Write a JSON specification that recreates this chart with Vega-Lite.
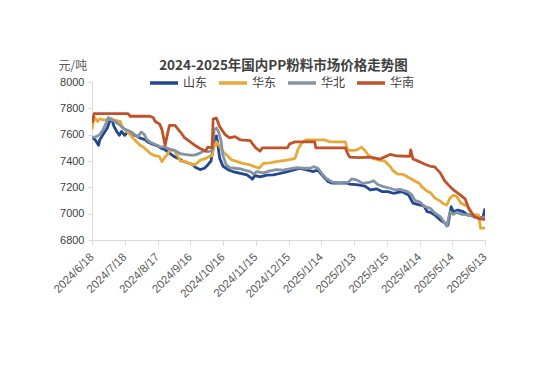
{
  "$schema": "https://vega.github.io/schema/vega-lite/v6.json",
  "width": 393,
  "height": 158,
  "autosize": "none",
  "padding": {"left": 92, "top": 82, "right": 48, "bottom": 127},
  "background": "white",
  "title": {"text": "2024-2025年国内PP粉料市场价格走势图", "font": "Noto Sans CJK SC", "fontSize": 13.5, "fontWeight": "bold", "color": "#404040", "anchor": "middle", "offset": 10, "dx": -5, "dy": 23},
  "config": {"view": {"stroke": null}},
  "datasets": {
    "prices": [
      {"date":"2024-06-18","region":"山东","price":7580},{"date":"2024-06-21","region":"山东","price":7560},{"date":"2024-06-24","region":"山东","price":7520},{"date":"2024-06-25","region":"山东","price":7560},{"date":"2024-06-28","region":"山东","price":7600},{"date":"2024-07-02","region":"山东","price":7650},{"date":"2024-07-04","region":"山东","price":7700},{"date":"2024-07-06","region":"山东","price":7720},{"date":"2024-07-08","region":"山东","price":7665},{"date":"2024-07-11","region":"山东","price":7620},{"date":"2024-07-13","region":"山东","price":7595},{"date":"2024-07-15","region":"山东","price":7625},{"date":"2024-07-18","region":"山东","price":7595},{"date":"2024-07-21","region":"山东","price":7625},{"date":"2024-07-24","region":"山东","price":7615},{"date":"2024-07-27","region":"山东","price":7595},{"date":"2024-07-29","region":"山东","price":7590},{"date":"2024-08-01","region":"山东","price":7575},{"date":"2024-08-06","region":"山东","price":7560},{"date":"2024-08-08","region":"山东","price":7545},{"date":"2024-08-12","region":"山东","price":7530},{"date":"2024-08-17","region":"山东","price":7515},{"date":"2024-08-21","region":"山东","price":7495},{"date":"2024-08-24","region":"山东","price":7485},{"date":"2024-08-28","region":"山东","price":7460},{"date":"2024-09-01","region":"山东","price":7435},{"date":"2024-09-05","region":"山东","price":7420},{"date":"2024-09-09","region":"山东","price":7400},{"date":"2024-09-14","region":"山东","price":7385},{"date":"2024-09-18","region":"山东","price":7375},{"date":"2024-09-21","region":"山东","price":7350},{"date":"2024-09-25","region":"山东","price":7335},{"date":"2024-09-29","region":"山东","price":7345},{"date":"2024-10-02","region":"山东","price":7370},{"date":"2024-10-05","region":"山东","price":7400},{"date":"2024-10-08","region":"山东","price":7560},{"date":"2024-10-10","region":"山东","price":7590},{"date":"2024-10-11","region":"山东","price":7540},{"date":"2024-10-13","region":"山东","price":7420},{"date":"2024-10-16","region":"山东","price":7360},{"date":"2024-10-21","region":"山东","price":7332},{"date":"2024-10-25","region":"山东","price":7320},{"date":"2024-11-01","region":"山东","price":7306},{"date":"2024-11-07","region":"山东","price":7294},{"date":"2024-11-12","region":"山东","price":7262},{"date":"2024-11-14","region":"山东","price":7290},{"date":"2024-11-19","region":"山东","price":7280},{"date":"2024-11-25","region":"山东","price":7292},{"date":"2024-12-01","region":"山东","price":7294},{"date":"2024-12-07","region":"山东","price":7305},{"date":"2024-12-14","region":"山东","price":7319},{"date":"2024-12-19","region":"山东","price":7330},{"date":"2024-12-25","region":"山东","price":7344},{"date":"2024-12-31","region":"山东","price":7335},{"date":"2025-01-06","region":"山东","price":7320},{"date":"2025-01-11","region":"山东","price":7330},{"date":"2025-01-16","region":"山东","price":7282},{"date":"2025-01-20","region":"山东","price":7245},{"date":"2025-01-24","region":"山东","price":7232},{"date":"2025-01-31","region":"山东","price":7232},{"date":"2025-02-07","region":"山东","price":7232},{"date":"2025-02-09","region":"山东","price":7225},{"date":"2025-02-17","region":"山东","price":7218},{"date":"2025-02-23","region":"山东","price":7210},{"date":"2025-02-28","region":"山东","price":7180},{"date":"2025-03-06","region":"山东","price":7188},{"date":"2025-03-11","region":"山东","price":7167},{"date":"2025-03-16","region":"山东","price":7167},{"date":"2025-03-21","region":"山东","price":7155},{"date":"2025-03-29","region":"山东","price":7167},{"date":"2025-04-04","region":"山东","price":7142},{"date":"2025-04-08","region":"山东","price":7080},{"date":"2025-04-14","region":"山东","price":7066},{"date":"2025-04-18","region":"山东","price":7060},{"date":"2025-04-21","region":"山东","price":7015},{"date":"2025-04-24","region":"山东","price":7010},{"date":"2025-04-28","region":"山东","price":6990},{"date":"2025-05-03","region":"山东","price":6952},{"date":"2025-05-07","region":"山东","price":6930},{"date":"2025-05-10","region":"山东","price":6912},{"date":"2025-05-13","region":"山东","price":7053},{"date":"2025-05-15","region":"山东","price":7015},{"date":"2025-05-19","region":"山东","price":7028},{"date":"2025-05-24","region":"山东","price":7015},{"date":"2025-05-28","region":"山东","price":6990},{"date":"2025-05-31","region":"山东","price":6990},{"date":"2025-06-05","region":"山东","price":6977},{"date":"2025-06-11","region":"山东","price":6965},{"date":"2025-06-13","region":"山东","price":7040},

      {"date":"2024-06-18","region":"华东","price":7640},{"date":"2024-06-20","region":"华东","price":7735},{"date":"2024-06-23","region":"华东","price":7700},{"date":"2024-06-25","region":"华东","price":7720},{"date":"2024-06-30","region":"华东","price":7710},{"date":"2024-07-04","region":"华东","price":7720},{"date":"2024-07-09","region":"华东","price":7710},{"date":"2024-07-14","region":"华东","price":7700},{"date":"2024-07-15","region":"华东","price":7670},{"date":"2024-07-18","region":"华东","price":7640},{"date":"2024-07-23","region":"华东","price":7600},{"date":"2024-07-26","region":"华东","price":7570},{"date":"2024-07-29","region":"华东","price":7545},{"date":"2024-08-01","region":"华东","price":7520},{"date":"2024-08-04","region":"华东","price":7505},{"date":"2024-08-07","region":"华东","price":7485},{"date":"2024-08-10","region":"华东","price":7460},{"date":"2024-08-13","region":"华东","price":7445},{"date":"2024-08-18","region":"华东","price":7435},{"date":"2024-08-19","region":"华东","price":7430},{"date":"2024-08-21","region":"华东","price":7395},{"date":"2024-08-23","region":"华东","price":7420},{"date":"2024-08-26","region":"华东","price":7450},{"date":"2024-08-28","region":"华东","price":7480},{"date":"2024-09-01","region":"华东","price":7480},{"date":"2024-09-04","region":"华东","price":7446},{"date":"2024-09-07","region":"华东","price":7400},{"date":"2024-09-11","region":"华东","price":7395},{"date":"2024-09-16","region":"华东","price":7380},{"date":"2024-09-20","region":"华东","price":7370},{"date":"2024-09-25","region":"华东","price":7405},{"date":"2024-09-30","region":"华东","price":7420},{"date":"2024-10-04","region":"华东","price":7435},{"date":"2024-10-06","region":"华东","price":7440},{"date":"2024-10-08","region":"华东","price":7510},{"date":"2024-10-10","region":"华东","price":7545},{"date":"2024-10-13","region":"华东","price":7510},{"date":"2024-10-16","region":"华东","price":7470},{"date":"2024-10-21","region":"华东","price":7433},{"date":"2024-10-24","region":"华东","price":7408},{"date":"2024-10-29","region":"华东","price":7395},{"date":"2024-11-03","region":"华东","price":7382},{"date":"2024-11-10","region":"华东","price":7370},{"date":"2024-11-14","region":"华东","price":7357},{"date":"2024-11-18","region":"华东","price":7345},{"date":"2024-11-22","region":"华东","price":7382},{"date":"2024-11-28","region":"华东","price":7385},{"date":"2024-12-04","region":"华东","price":7395},{"date":"2024-12-12","region":"华东","price":7405},{"date":"2024-12-16","region":"华东","price":7410},{"date":"2024-12-21","region":"华东","price":7420},{"date":"2024-12-24","region":"华东","price":7495},{"date":"2024-12-27","region":"华东","price":7535},{"date":"2024-12-31","region":"华东","price":7560},{"date":"2025-01-17","region":"华东","price":7560},{"date":"2025-01-22","region":"华东","price":7545},{"date":"2025-02-05","region":"华东","price":7545},{"date":"2025-02-07","region":"华东","price":7490},{"date":"2025-02-09","region":"华东","price":7480},{"date":"2025-02-14","region":"华东","price":7480},{"date":"2025-02-17","region":"华东","price":7490},{"date":"2025-02-20","region":"华东","price":7505},{"date":"2025-02-23","region":"华东","price":7480},{"date":"2025-02-26","region":"华东","price":7446},{"date":"2025-03-02","region":"华东","price":7420},{"date":"2025-03-09","region":"华东","price":7405},{"date":"2025-03-13","region":"华东","price":7400},{"date":"2025-03-18","region":"华东","price":7360},{"date":"2025-03-21","region":"华东","price":7325},{"date":"2025-03-25","region":"华东","price":7300},{"date":"2025-03-29","region":"华东","price":7300},{"date":"2025-04-01","region":"华东","price":7290},{"date":"2025-04-04","region":"华东","price":7275},{"date":"2025-04-07","region":"华东","price":7262},{"date":"2025-04-11","region":"华东","price":7243},{"date":"2025-04-14","region":"华东","price":7230},{"date":"2025-04-16","region":"华东","price":7205},{"date":"2025-04-21","region":"华东","price":7170},{"date":"2025-04-24","region":"华东","price":7160},{"date":"2025-04-28","region":"华东","price":7120},{"date":"2025-05-03","region":"华东","price":7095},{"date":"2025-05-06","region":"华东","price":7075},{"date":"2025-05-09","region":"华东","price":7066},{"date":"2025-05-12","region":"华东","price":7120},{"date":"2025-05-15","region":"华东","price":7140},{"date":"2025-05-18","region":"华东","price":7130},{"date":"2025-05-22","region":"华东","price":7080},{"date":"2025-05-27","region":"华东","price":7060},{"date":"2025-05-29","region":"华东","price":7050},{"date":"2025-06-01","region":"华东","price":6995},{"date":"2025-06-07","region":"华东","price":6990},{"date":"2025-06-09","region":"华东","price":6890},{"date":"2025-06-13","region":"华东","price":6890},

      {"date":"2024-06-18","region":"华北","price":7580},{"date":"2024-06-22","region":"华北","price":7585},{"date":"2024-06-25","region":"华北","price":7600},{"date":"2024-06-28","region":"华北","price":7635},{"date":"2024-07-01","region":"华北","price":7690},{"date":"2024-07-03","region":"华北","price":7730},{"date":"2024-07-05","region":"华北","price":7715},{"date":"2024-07-09","region":"华北","price":7700},{"date":"2024-07-14","region":"华北","price":7670},{"date":"2024-07-17","region":"华北","price":7645},{"date":"2024-07-20","region":"华北","price":7635},{"date":"2024-07-24","region":"华北","price":7620},{"date":"2024-07-27","region":"华北","price":7600},{"date":"2024-07-30","region":"华北","price":7585},{"date":"2024-08-02","region":"华北","price":7620},{"date":"2024-08-05","region":"华北","price":7600},{"date":"2024-08-07","region":"华北","price":7565},{"date":"2024-08-10","region":"华北","price":7545},{"date":"2024-08-15","region":"华北","price":7525},{"date":"2024-08-19","region":"华北","price":7510},{"date":"2024-08-24","region":"华北","price":7505},{"date":"2024-08-28","region":"华北","price":7490},{"date":"2024-09-02","region":"华北","price":7480},{"date":"2024-09-07","region":"华北","price":7455},{"date":"2024-09-11","region":"华北","price":7450},{"date":"2024-09-16","region":"华北","price":7445},{"date":"2024-09-20","region":"华北","price":7445},{"date":"2024-09-25","region":"华北","price":7460},{"date":"2024-09-29","region":"华北","price":7480},{"date":"2024-10-02","region":"华北","price":7470},{"date":"2024-10-06","region":"华北","price":7480},{"date":"2024-10-08","region":"华北","price":7640},{"date":"2024-10-10","region":"华北","price":7650},{"date":"2024-10-12","region":"华北","price":7620},{"date":"2024-10-14","region":"华北","price":7560},{"date":"2024-10-16","region":"华北","price":7440},{"date":"2024-10-19","region":"华北","price":7370},{"date":"2024-10-22","region":"华北","price":7350},{"date":"2024-10-27","region":"华北","price":7345},{"date":"2024-11-01","region":"华北","price":7340},{"date":"2024-11-05","region":"华北","price":7330},{"date":"2024-11-10","region":"华北","price":7320},{"date":"2024-11-13","region":"华北","price":7300},{"date":"2024-11-16","region":"华北","price":7320},{"date":"2024-11-22","region":"华北","price":7310},{"date":"2024-11-28","region":"华北","price":7325},{"date":"2024-12-04","region":"华北","price":7335},{"date":"2024-12-10","region":"华北","price":7330},{"date":"2024-12-16","region":"华北","price":7340},{"date":"2024-12-23","region":"华北","price":7350},{"date":"2024-12-30","region":"华北","price":7345},{"date":"2025-01-04","region":"华北","price":7345},{"date":"2025-01-07","region":"华北","price":7357},{"date":"2025-01-11","region":"华北","price":7345},{"date":"2025-01-15","region":"华北","price":7300},{"date":"2025-01-19","region":"华北","price":7265},{"date":"2025-01-24","region":"华北","price":7240},{"date":"2025-01-31","region":"华北","price":7235},{"date":"2025-02-08","region":"华北","price":7240},{"date":"2025-02-11","region":"华北","price":7265},{"date":"2025-02-16","region":"华北","price":7255},{"date":"2025-02-21","region":"华北","price":7230},{"date":"2025-02-28","region":"华北","price":7240},{"date":"2025-03-03","region":"华北","price":7250},{"date":"2025-03-07","region":"华北","price":7220},{"date":"2025-03-12","region":"华北","price":7205},{"date":"2025-03-18","region":"华北","price":7193},{"date":"2025-03-23","region":"华北","price":7180},{"date":"2025-03-27","region":"华北","price":7185},{"date":"2025-04-03","region":"华北","price":7167},{"date":"2025-04-07","region":"华北","price":7142},{"date":"2025-04-10","region":"华北","price":7100},{"date":"2025-04-14","region":"华北","price":7090},{"date":"2025-04-19","region":"华北","price":7053},{"date":"2025-04-24","region":"华北","price":7040},{"date":"2025-04-28","region":"华北","price":7005},{"date":"2025-05-03","region":"华北","price":6978},{"date":"2025-05-07","region":"华北","price":6930},{"date":"2025-05-09","region":"华北","price":6905},{"date":"2025-05-12","region":"华北","price":7015},{"date":"2025-05-15","region":"华北","price":6995},{"date":"2025-05-18","region":"华北","price":7010},{"date":"2025-05-23","region":"华北","price":6995},{"date":"2025-05-28","region":"华北","price":6990},{"date":"2025-05-31","region":"华北","price":6985},{"date":"2025-06-05","region":"华北","price":6968},{"date":"2025-06-09","region":"华北","price":6965},{"date":"2025-06-13","region":"华北","price":6975},

      {"date":"2024-06-18","region":"华南","price":7690},{"date":"2024-06-20","region":"华南","price":7760},{"date":"2024-07-21","region":"华南","price":7760},{"date":"2024-07-23","region":"华南","price":7740},{"date":"2024-08-10","region":"华南","price":7740},{"date":"2024-08-13","region":"华南","price":7730},{"date":"2024-08-15","region":"华南","price":7700},{"date":"2024-08-19","region":"华南","price":7680},{"date":"2024-08-21","region":"华南","price":7640},{"date":"2024-08-24","region":"华南","price":7520},{"date":"2024-08-26","region":"华南","price":7600},{"date":"2024-08-28","region":"华南","price":7670},{"date":"2024-09-02","region":"华南","price":7670},{"date":"2024-09-07","region":"华南","price":7620},{"date":"2024-09-11","region":"华南","price":7575},{"date":"2024-09-16","region":"华南","price":7545},{"date":"2024-09-20","region":"华南","price":7520},{"date":"2024-09-25","region":"华南","price":7495},{"date":"2024-09-30","region":"华南","price":7475},{"date":"2024-10-02","region":"华南","price":7505},{"date":"2024-10-06","region":"华南","price":7500},{"date":"2024-10-07","region":"华南","price":7720},{"date":"2024-10-10","region":"华南","price":7725},{"date":"2024-10-13","region":"华南","price":7660},{"date":"2024-10-18","region":"华南","price":7600},{"date":"2024-10-22","region":"华南","price":7575},{"date":"2024-10-27","region":"华南","price":7585},{"date":"2024-11-01","region":"华南","price":7560},{"date":"2024-11-10","region":"华南","price":7555},{"date":"2024-11-13","region":"华南","price":7520},{"date":"2024-11-15","region":"华南","price":7500},{"date":"2024-11-19","region":"华南","price":7475},{"date":"2024-11-21","region":"华南","price":7500},{"date":"2024-12-14","region":"华南","price":7500},{"date":"2024-12-16","region":"华南","price":7530},{"date":"2024-12-21","region":"华南","price":7545},{"date":"2025-01-08","region":"华南","price":7545},{"date":"2025-01-09","region":"华南","price":7500},{"date":"2025-02-05","region":"华南","price":7500},{"date":"2025-02-07","region":"华南","price":7460},{"date":"2025-02-09","region":"华南","price":7430},{"date":"2025-02-18","region":"华南","price":7425},{"date":"2025-02-28","region":"华南","price":7430},{"date":"2025-03-09","region":"华南","price":7415},{"date":"2025-03-13","region":"华南","price":7430},{"date":"2025-03-18","region":"华南","price":7450},{"date":"2025-03-23","region":"华南","price":7440},{"date":"2025-04-05","region":"华南","price":7435},{"date":"2025-04-06","region":"华南","price":7485},{"date":"2025-04-08","region":"华南","price":7415},{"date":"2025-04-14","region":"华南","price":7395},{"date":"2025-04-19","region":"华南","price":7375},{"date":"2025-04-24","region":"华南","price":7360},{"date":"2025-04-28","region":"华南","price":7355},{"date":"2025-05-03","region":"华南","price":7310},{"date":"2025-05-07","region":"华南","price":7250},{"date":"2025-05-12","region":"华南","price":7205},{"date":"2025-05-16","region":"华南","price":7175},{"date":"2025-05-21","region":"华南","price":7145},{"date":"2025-05-26","region":"华南","price":7110},{"date":"2025-05-29","region":"华南","price":7040},{"date":"2025-06-03","region":"华南","price":6980},{"date":"2025-06-07","region":"华南","price":6965},{"date":"2025-06-13","region":"华南","price":6955}
    ]
  },
  "data": {"name": "prices"},
  "mark": {"type": "line", "strokeWidth": 2.8, "strokeJoin": "round", "clip": true},
  "encoding": {
    "x": {
      "field": "date", "type": "temporal",
      "scale": {"type": "utc", "domain": [{"year": 2024, "month": 6, "date": 18, "utc": true}, {"year": 2025, "month": 6, "date": 13, "utc": true}]},
      "axis": {
        "title": null, "grid": false,
        "labelExpr": "utcFormat(datum.value, '%Y/%-m/%-d')",
        "values": [
          {"year":2024,"month":6,"date":18,"utc":true},{"year":2024,"month":7,"date":18,"utc":true},{"year":2024,"month":8,"date":17,"utc":true},{"year":2024,"month":9,"date":16,"utc":true},{"year":2024,"month":10,"date":16,"utc":true},{"year":2024,"month":11,"date":15,"utc":true},{"year":2024,"month":12,"date":15,"utc":true},{"year":2025,"month":1,"date":14,"utc":true},{"year":2025,"month":2,"date":13,"utc":true},{"year":2025,"month":3,"date":15,"utc":true},{"year":2025,"month":4,"date":14,"utc":true},{"year":2025,"month":5,"date":14,"utc":true},{"year":2025,"month":6,"date":13,"utc":true}
        ],
        "labelAngle": -45, "labelAlign": "right", "labelBaseline": "middle",
        "labelFont": "Liberation Sans", "labelFontSize": 11.5, "labelColor": "#595959",
        "labelPadding": 10, "labelOverlap": false, "labelFlush": false,
        "domainColor": "#d9d9d9", "tickColor": "#d9d9d9", "tickSize": 5
      }
    },
    "y": {
      "field": "price", "type": "quantitative",
      "scale": {"domain": [6800, 8000], "nice": false, "zero": false},
      "axis": {
        "title": "元/吨", "titleAngle": 0, "titleAlign": "left", "titleBaseline": "middle",
        "titleX": -34, "titleY": -17, "titleFont": "Noto Sans CJK SC", "titleFontSize": 12, "titleFontWeight": "normal", "titleColor": "#595959",
        "values": [6800, 7000, 7200, 7400, 7600, 7800, 8000], "format": "d",
        "grid": false, "labelFont": "Liberation Sans", "labelFontSize": 11, "labelColor": "#404040", "labelPadding": 4,
        "domainColor": "#d9d9d9", "tickColor": "#d9d9d9", "tickSize": 4
      }
    },
    "color": {
      "field": "region", "type": "nominal",
      "scale": {"domain": ["山东", "华东", "华北", "华南"], "range": ["#23478f", "#e8a93a", "#8494a4", "#c0522a"]},
      "legend": {
        "title": null, "orient": "none", "legendX": 56, "legendY": -15, "direction": "horizontal",
        "symbolType": "stroke", "symbolSize": 784, "symbolStrokeWidth": 3.5,
        "labelFont": "Noto Sans CJK SC", "labelFontSize": 12, "labelColor": "#404040", "labelOffset": 3,
        "columnPadding": 4
      }
    }
  }
}
